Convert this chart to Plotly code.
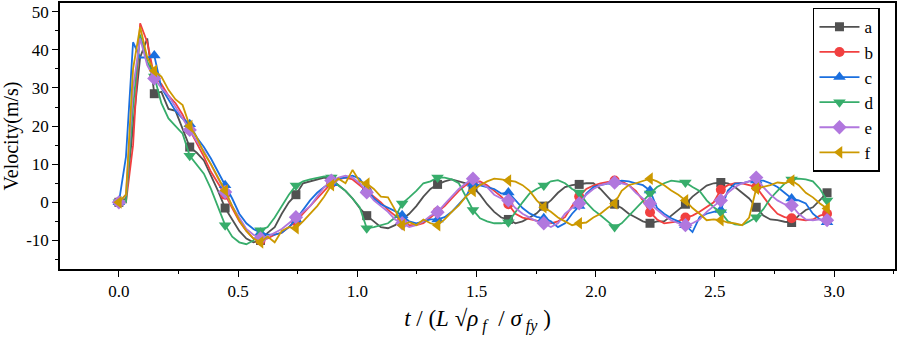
import plotly.graph_objects as go

# time grid (dimensionless)
t = [0, 0.0297, 0.0594, 0.0891, 0.1188, 0.1485, 0.1782, 0.2079, 0.2376, 0.2673,
     0.297, 0.3267, 0.3564, 0.3861, 0.4158, 0.4455, 0.4752, 0.5049, 0.5346, 0.5643,
     0.594, 0.6237, 0.6534, 0.6831, 0.7128, 0.7425, 0.7722, 0.8019, 0.8316, 0.8613,
     0.891, 0.9207, 0.9504, 0.9801, 1.0098, 1.0395, 1.0692, 1.0989, 1.1286, 1.1583,
     1.188, 1.2177, 1.2474, 1.2771, 1.3068, 1.3365, 1.3662, 1.3959, 1.4256, 1.4553,
     1.485, 1.5147, 1.5444, 1.5741, 1.6038, 1.6335, 1.6632, 1.6929, 1.7226, 1.7523,
     1.782, 1.8117, 1.8414, 1.8711, 1.9008, 1.9305, 1.9602, 1.9899, 2.0196, 2.0493,
     2.079, 2.1087, 2.1384, 2.1681, 2.1978, 2.2275, 2.2572, 2.2869, 2.3166, 2.3463,
     2.376, 2.4057, 2.4354, 2.4651, 2.4948, 2.5245, 2.5542, 2.5839, 2.6136, 2.6433,
     2.673, 2.7027, 2.7324, 2.7621, 2.7918, 2.8215, 2.8512, 2.8809, 2.9106, 2.9403,
     2.97]

a = [0, 1, 20, 38, 43, 28.5, 29, 24.5, 24, 19, 14.5,
     13, 11, 7, 3, -1.5, -4.5, -7.5, -9.5, -10.5, -10,
     -8, -6.5, -3, 0, 2, 5, 5.5, 6, 6.5, 6,
     4.5, 3, 1, -1.5, -3.5, -5, -6.5, -6.8, -6, -4.5,
     -3, -1, 1.5, 3.5, 4.7, 5.5, 6, 5.5, 5, 4,
     2, -0.5, -2.5, -4, -4.5, -5.5, -5, -4, -2.9, -1,
     0.5, 2.5, 4, 4.5, 4.7, 5, 5, 3.5, 1.5, -0.5,
     -1.5, -3, -4, -5, -5.5, -5, -5, -3.5, -2, -0.5,
     1.5, 3, 4.4, 5, 5.2, 5, 4, 2.5, 1, -1.3,
     -3.5, -4.5, -4.7, -5.1, -5.3, -3.5, -2, -1.3, 0.5, 2.5]

b = [0, 0, 15, 47, 42, 33, 31, 28, 26, 23, 19,
     15.5, 12, 8, 5, 2, -1.5, -5, -7.5, -9.5, -10,
     -9.5, -8.5, -8, -6.5, -5, -3, -1, 1, 3, 5,
     6, 6.5, 6, 4.5, 3, 1.5, 0, -2, -3.5, -5,
     -6, -6, -5.5, -4, -2.5, -1, 1, 3, 4.5, 5.5,
     5.5, 4.5, 3, 1.5, -0.5, -3, -4, -4.5, -4.8, -5,
     -5.5, -5, -3.9, -1, 1.5, 3.5, 4.4, 5, 5.3, 5.7,
     5.5, 4.5, 3, 0.5, -2.6, -4.5, -5.5, -5.3, -5, -4,
     -3.5, -2.5, -1.3, 0, 3.3, 4.5, 5, 5, 4.5, 4,
     1.5, -1, -3, -3.9, -4.2, -4.5, -4.7, -4.5, -3.5, -3]

c = [0, 12, 42, 38, 38, 38.5, 30, 27, 24, 22, 20.5,
     17, 14.5, 11.5, 8, 4.5, 1, -3, -5.5, -7, -8,
     -8.5, -8.5, -8, -6.5, -4.5, -2, 0.5, 2.5, 4, 5,
     6.2, 6.5, 7, 6.2, 3.5, 1, -0.5, -1.3, -2.3, -3.4,
     -5, -5.5, -5, -4.5, -4.5, -3.9, -2.5, -0.5, 1.5, 4.9,
     4.5, 4, 3.5, 2.3, 2.6, 0.5, -1.5, -2.9, -3.8, -4.2,
     -5, -6.5, -5.5, -3, -1, 2.3, 4, 4.5, 5, 5.3,
     5.7, 5.5, 5, 4.5, 3.1, -1.5, -3, -4.2, -5, -6,
     -7.8, -3.9, -3, -2.5, -2, 3.1, 4.9, 5, 5.5, 5.7,
     5.7, 5, 4, 2.5, 1, 0.5, -0.3, -3, -4.5, -5.2]

d = [0, 0, 25, 44, 37, 33, 26, 22, 20, 18, 12.2,
     10, 7.5, 3.5, -1.5, -6, -9, -10.5, -11, -10, -7.3,
     -6.5, -4, -1, 2, 4.4, 5.5, 6, 6.5, 6.8, 6.5,
     4.4, 3, 1, -1.3, -6.8, -6.5, -6, -5.5, -4, -0.3,
     1.3, 3, 5, 5.5, 6.5, 6.5, 6, 5, 1.5, -2,
     -4.2, -5, -5.5, -5.5, -5.2, -2.5, 0, 2.3, 3.5, 4.4,
     5.5, 5.8, 5, 3.5, 2.6, 0, -2, -3.4, -5, -6.5,
     -5.5, -3.5, -1.5, 0.5, 2.3, 4, 5, 5.7, 5.5, 5.2,
     4, 3, 0.5, -1.3, -2.6, -5, -5.8, -6, -5, -3.9,
     -1.8, 1, 3, 4.9, 6, 6.2, 6, 5.5, 3.5, 0.5]

e = [0, 2, 30, 43, 36, 32.5, 30, 28, 25, 22, 19,
     16, 13.5, 10, 6.5, 2.7, -1, -4, -7, -8.5, -9.5,
     -9, -8, -7, -5.5, -3.9, -2.5, -1, 1.5, 4, 5.7,
     6.5, 7, 6.5, 5, 2.6, 0.5, -1, -2.5, -4.5, -5.5,
     -6.5, -6, -5, -3.5, -2.6, -0.5, 1.5, 3.5, 5, 6.2,
     5, 4, 2, 1, 0.5, -1.5, -3, -4, -5, -5.5,
     -6.5, -5.5, -3, -1.5, -0.3, 2, 3.5, 4.5, 5, 5.2,
     5, 4.5, 2.5, 1, -0.3, -2, -3.5, -4.7, -5.5, -6,
     -5.5, -4.5, -2.5, -1, 0.5, 2.5, 4, 5, 5.5, 6.5,
     4, 2, 0.5, -0.5, -0.8, -3, -4.5, -4.7, -4.5, -4.7]

f = [0, 2, 35, 46, 38, 34.5, 33, 29.5, 27, 25.5, 20,
     17, 13, 10, 6.5, 3.1, -1, -4.7, -7.5, -9.5, -10.5,
     -9, -10.5, -7.5, -6.5, -6.8, -5, -2.9, -1, 1.5, 4.5,
     6.2, 5, 8.5, 5.5, 4.9, 3.5, 1.5, 1.3, -2, -6,
     -5.2, -6, -4.5, -5.5, -6, -4.5, -2.5, -0.8, 1.5, 3,
     4.5, 5.5, 6.2, 6, 5.7, 5.4, 4.5, 3, 0.5, -1.3,
     -2.5, -4, -5, -6, -5.5, -5.3, -4, -3, -1.5, -0.3,
     3, 4.5, 5, 5.5, 6.2, 5.5, 4.5, 3.1, 2, 0.5,
     -1.5, -3, -4.7, -4.5, -4.7, -5.3, -5.5, -6, -4, 3.6,
     4, 4.5, 5.2, 5, 5.7, 4.5, 2.5, 1.3, -0.3, -1.6]

series_names = ["a", "b", "c", "d", "e", "f"]
series_values = [a, b, c, d, e, f]
colors = ["#515151", "#F14040", "#1A6FDF", "#37AD6B", "#B177DE", "#CC9900"]
symbols = ["square", "circle", "triangle-up", "triangle-down", "diamond", "triangle-left"]
marker_sizes = [9, 10, 11, 11, 11, 11]

x_tickvals = [0.0, 0.5, 1.0, 1.5, 2.0, 2.5, 3.0]
x_ticktext = ["0.0", "0.5", "1.0", "1.5", "2.0", "2.5", "3.0"]
y_tickvals = [-10, 0, 10, 20, 30, 40, 50]
y_ticktext = ["-10", "0", "10", "20", "30", "40", "50"]

MARK_EVERY = 5
FONT = "Liberation Serif"
NB = "\u00a0"
x_title = (f"<i>t</i>{NB}/{NB}(<i>L</i>{NB}√<i>ρ</i><sub>{NB}<i>f</i></sub>{NB}{NB}/{NB}"
           f"<i>σ</i><sub>{NB}<i>fy</i></sub>{NB})")

fig = go.Figure()
for name, vals, col, sym, ms in zip(series_names, series_values, colors, symbols, marker_sizes):
    fig.add_trace(go.Scatter(x=t, y=vals, mode="lines", line=dict(color=col, width=1.8),
                             showlegend=False, hoverinfo="skip"))
    mx = t[::MARK_EVERY]
    my = vals[::MARK_EVERY]
    fig.add_trace(go.Scatter(x=mx, y=my, mode="markers",
                             marker=dict(symbol=sym, size=ms, color=col, line=dict(width=0)),
                             showlegend=False))
    fig.add_trace(go.Scatter(x=[None], y=[None], mode="lines+markers", name=name,
                             line=dict(color=col, width=1.8),
                             marker=dict(symbol=sym, size=ms, color=col, line=dict(width=0))))

fig.update_layout(
    width=898, height=343,
    margin=dict(l=60, r=1, t=1, b=74),
    paper_bgcolor="white", plot_bgcolor="white",
    font=dict(family=FONT, size=17, color="black"),
    showlegend=True,
    legend=dict(x=0.982, xanchor="right", y=0.982, yanchor="top",
                bgcolor="white", bordercolor="black", borderwidth=1.5,
                font=dict(family=FONT, size=17, color="black"),
                tracegroupgap=0, itemwidth=40),
    xaxis=dict(range=[-0.247, 3.255], tickvals=x_tickvals, ticktext=x_ticktext,
               showgrid=False, zeroline=False, showline=True, linecolor="black", linewidth=1.5,
               mirror=True, ticks="outside", ticklen=6, tickwidth=1.2, tickcolor="black",
               minor=dict(dtick=0.25, tick0=0, ticks="outside", ticklen=3.5, tickwidth=1.2, tickcolor="black"),
               tickfont=dict(family=FONT, size=17),
               title=dict(text=x_title, font=dict(family=FONT, size=23), standoff=10)),
    yaxis=dict(range=[-17.5, 52.3], tickvals=y_tickvals, ticktext=y_ticktext,
               showgrid=False, zeroline=False, showline=True, linecolor="black", linewidth=1.5,
               mirror=True, ticks="outside", ticklen=6, tickwidth=1.2, tickcolor="black",
               minor=dict(dtick=5, tick0=0, ticks="outside", ticklen=3.5, tickwidth=1.2, tickcolor="black"),
               tickfont=dict(family=FONT, size=17),
               title=dict(text="Velocity(m/s)", font=dict(family=FONT, size=20), standoff=6)),
)

fig.write_html("out.html")
